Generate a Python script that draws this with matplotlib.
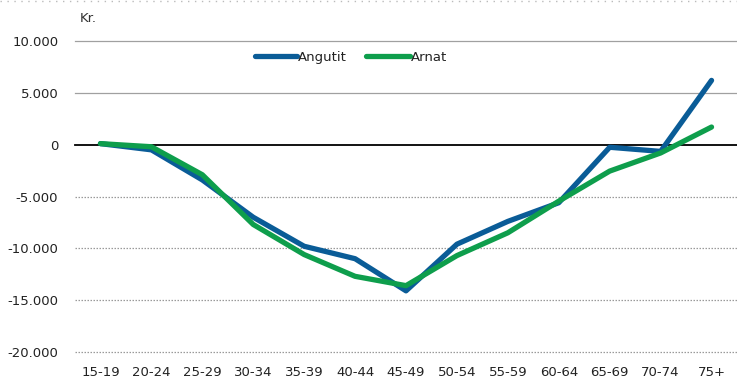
import matplotlib
matplotlib.use("Agg")
import matplotlib.pyplot as plt
from matplotlib.ticker import FuncFormatter
from matplotlib.lines import Line2D

categories = ["15-19", "20-24", "25-29", "30-34", "35-39", "40-44", "45-49",
              "50-54", "55-59", "60-64", "65-69", "70-74", "75+"]
angutit = [100, -500, -3400, -7000, -9800, -11000, -14100, -9600, -7400, -5600, -250, -650, 6200]
arnat = [100, -200, -2900, -7700, -10600, -12700, -13600, -10700, -8500, -5450, -2550, -800, 1700]
yticks = [10000, 5000, 0, -5000, -10000, -15000, -20000]

W, H = 737, 386
plt.rcParams['font.family'] = ['DejaVu Sans']
fig = plt.figure(figsize=(W/100, H/100), dpi=100)
ax = fig.add_axes([75/W, 1-352/H, 1-75/W, 311/H])

x = list(range(len(categories)))
blue = "#0A5C97"
green = "#0E9E4C"
ax.plot(x, angutit, color=blue, lw=3.8, label="Angutit", solid_capstyle="round", zorder=3)
ax.plot(x, arnat, color=green, lw=3.8, label="Arnat", solid_capstyle="round", zorder=3)

ax.set_xlim(-0.5, len(categories) - 0.5)
ax.set_ylim(-20000, 10000)
ax.set_yticks(yticks)
ax.yaxis.set_major_formatter(FuncFormatter(lambda v, p: f"{int(v):,}".replace(",", ".")))
ax.set_xticks(x)
ax.set_xticklabels(categories)
for v in yticks:
    if v == 0:
        ax.axhline(v, color="black", lw=1.3, zorder=2, clip_on=False)
    elif v > 0:
        ax.axhline(v, color="#A0A0A0", lw=0.9, zorder=1, clip_on=False)
    else:
        ax.axhline(v, color="#9A9A9A", lw=0.9, zorder=1, clip_on=False,
                   linestyle=(0, (1.2, 1.2)))
for s in ax.spines.values():
    s.set_visible(False)
ax.tick_params(axis="both", length=0, labelsize=9.5, colors="#222222")
ax.tick_params(axis="y", pad=12)
ax.tick_params(axis="x", pad=10)

fig.text(80/W, 1-18/H, "Kr.", fontsize=9.5, color="#333333", va="center")

# top dotted border
fig.add_artist(Line2D([0, 1], [1-0.7/H, 1-0.7/H], color="#BBBBBB", lw=1.0,
                      linestyle=(0, (1, 4))))

# legend
ly = 1 - 56/H
fig.add_artist(Line2D([255/W, 297/W], [ly, ly], color=blue, lw=3.8, solid_capstyle="round"))
fig.text(298/W, ly, "Angutit", fontsize=9.5, color="#222222", va="center_baseline")
fig.add_artist(Line2D([366/W, 410/W], [ly, ly], color=green, lw=3.8, solid_capstyle="round"))
fig.text(411/W, ly, "Arnat", fontsize=9.5, color="#222222", va="center_baseline")

fig.savefig("out.png", dpi=100)
